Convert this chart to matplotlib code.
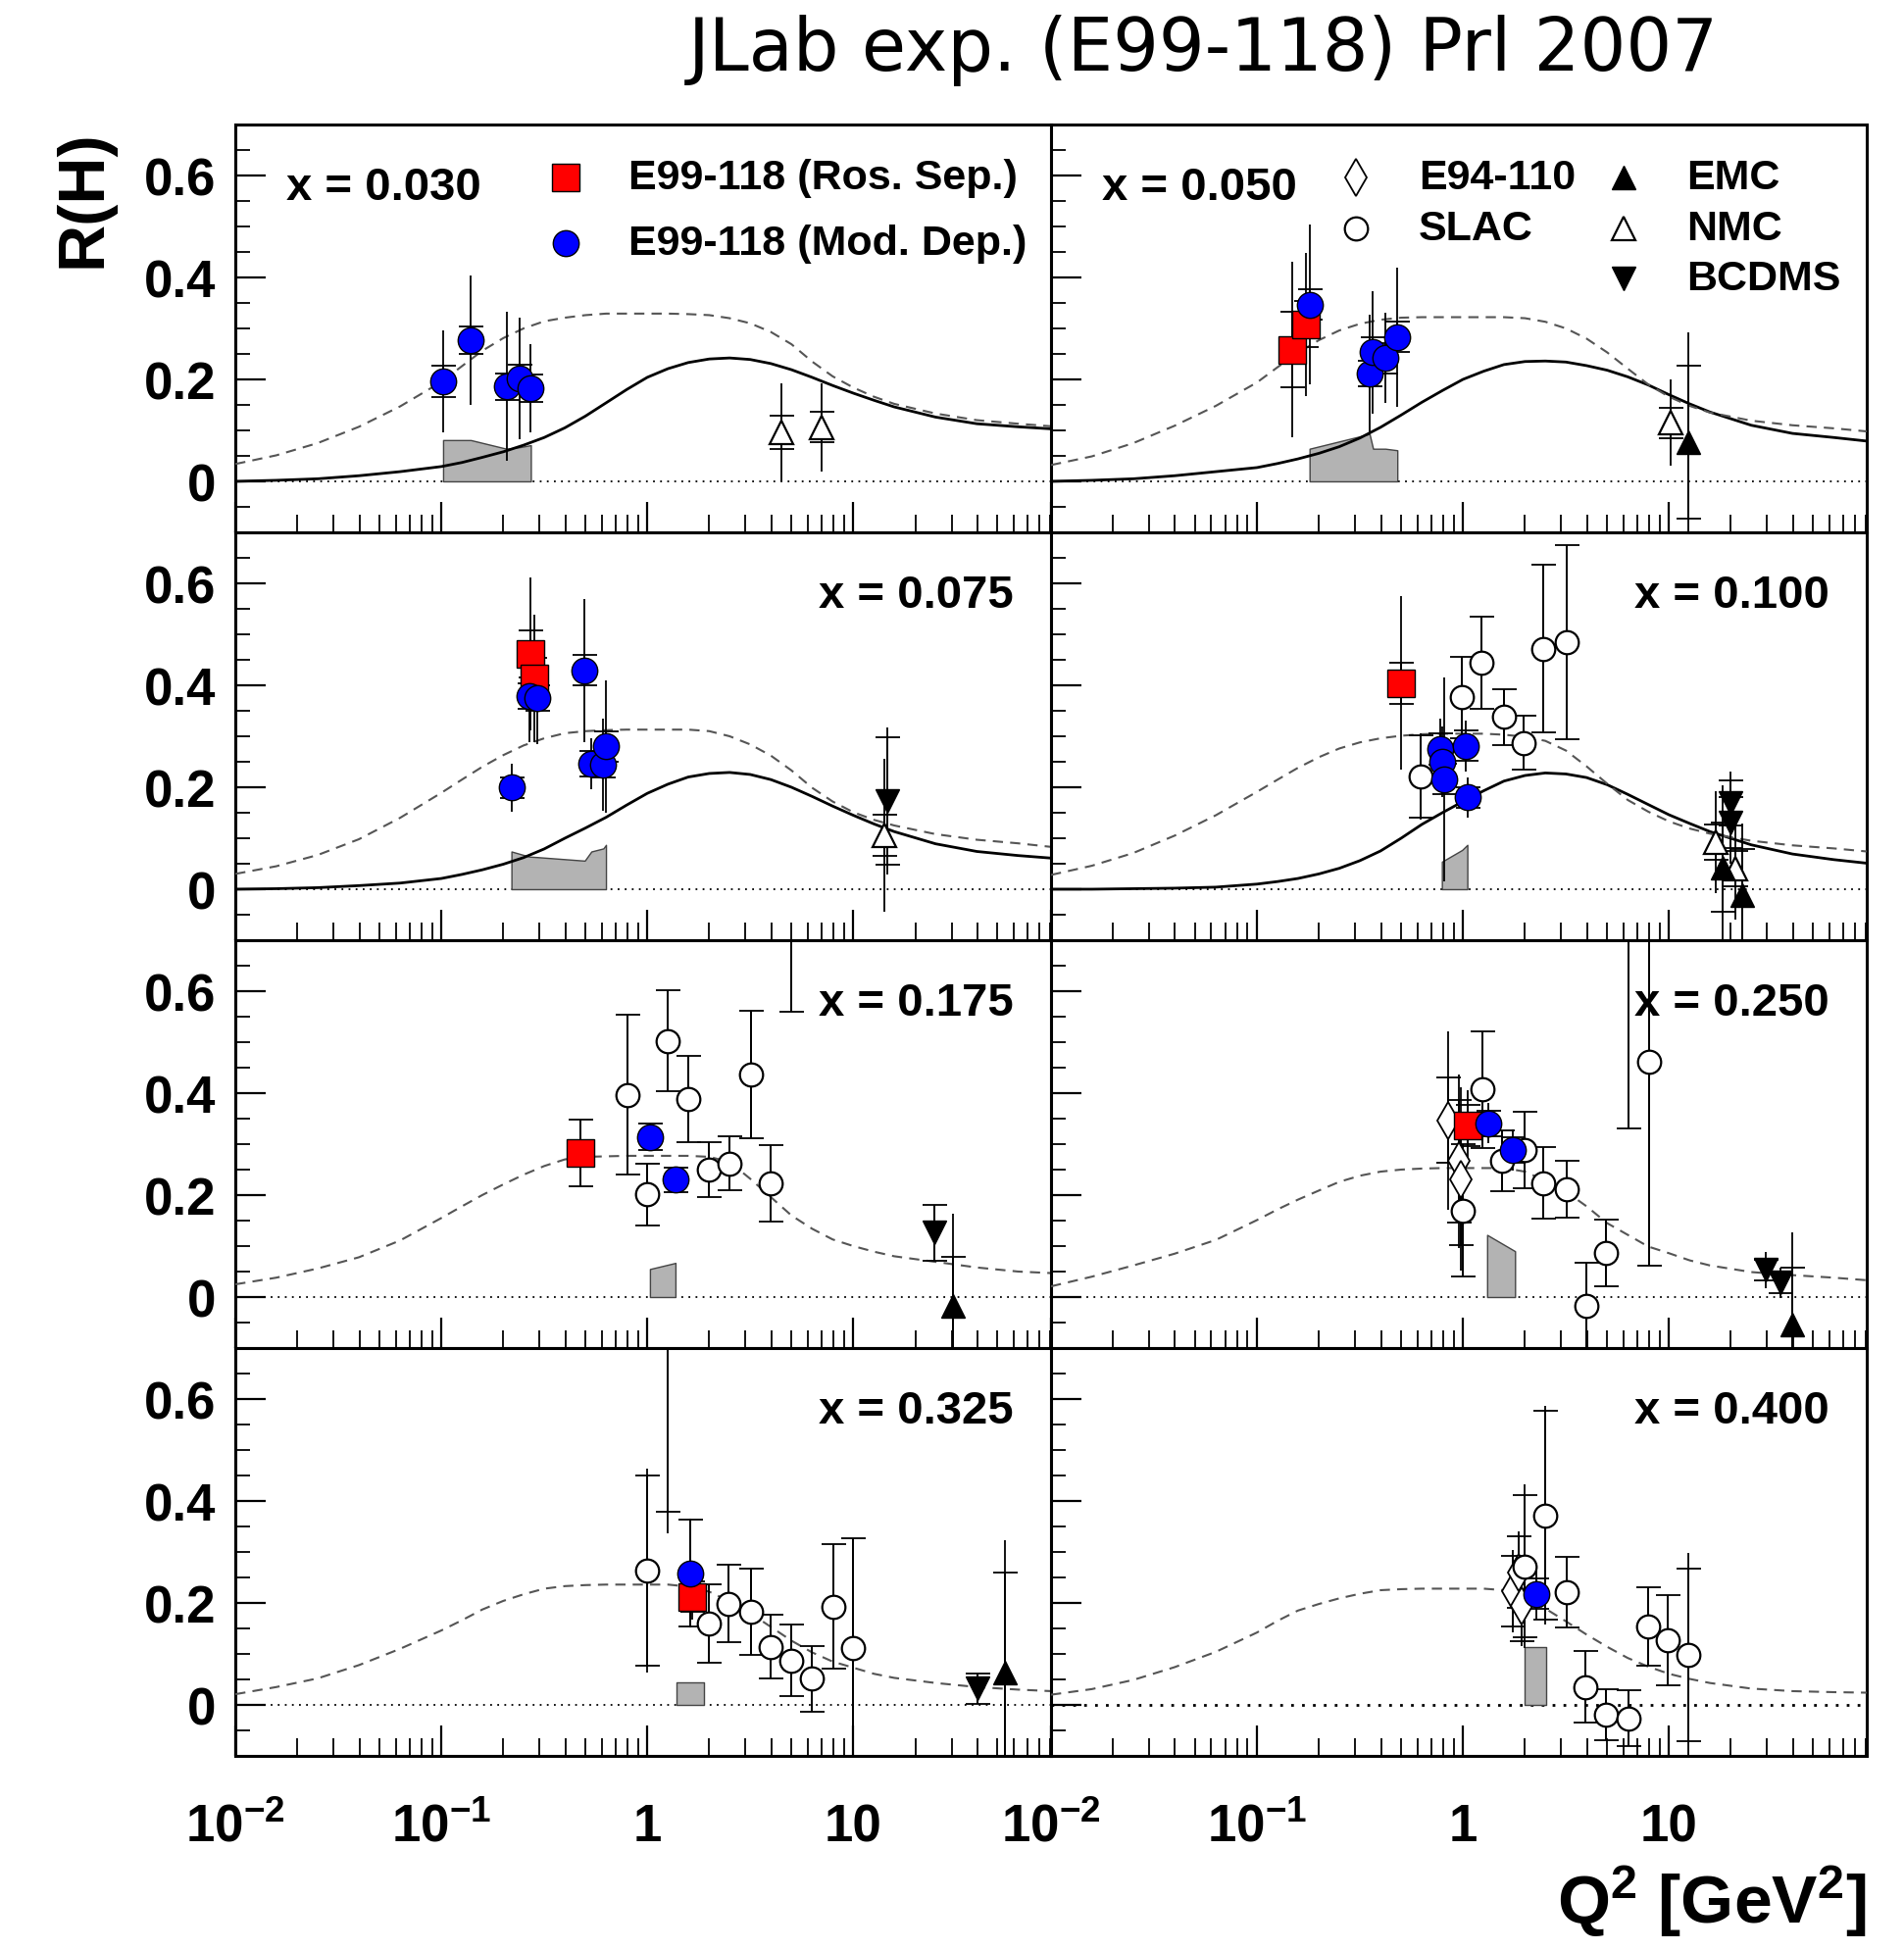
import matplotlib
matplotlib.use("Agg")
import matplotlib.pyplot as plt
from matplotlib.ticker import FixedLocator, MultipleLocator, FuncFormatter, NullFormatter

plt.rcParams['font.family'] = ['Liberation Sans', 'DejaVu Sans']
plt.rcParams['mathtext.fontset'] = 'custom'
plt.rcParams['mathtext.rm'] = 'Liberation Sans:bold'
plt.rcParams['mathtext.bf'] = 'Liberation Sans:bold'
plt.rcParams['mathtext.it'] = 'Liberation Sans:bold'

# ---------------- data ----------------
X_LABELS = ["0.030", "0.050", "0.075", "0.100", "0.175", "0.250", "0.325", "0.400"]

CURVE_Q2 = [0.01, 0.0158, 0.0251, 0.0398, 0.0631, 0.1, 0.126, 0.158, 0.2, 0.251, 0.316,
            0.398, 0.501, 0.631, 0.794, 1.0, 1.26, 1.58, 2.0, 2.51, 3.16, 3.98, 5.01,
            6.31, 7.94, 10.0, 12.6, 15.8, 25.1, 39.8, 63.1, 91.2]

SOLID_030 = [0.0, 0.002, 0.005, 0.011, 0.019, 0.029, 0.037, 0.047, 0.058, 0.071, 0.086,
             0.105, 0.128, 0.154, 0.180, 0.204, 0.221, 0.233, 0.240, 0.242, 0.239, 0.231,
             0.219, 0.204, 0.188, 0.173, 0.159, 0.146, 0.126, 0.113, 0.107, 0.103]
SOLID_050 = [0.0, 0.002, 0.005, 0.011, 0.019, 0.027, 0.035, 0.044, 0.055, 0.068, 0.085,
             0.106, 0.130, 0.155, 0.178, 0.200, 0.216, 0.229, 0.235, 0.236, 0.234, 0.227,
             0.218, 0.205, 0.189, 0.170, 0.152, 0.136, 0.110, 0.094, 0.086, 0.079]
SOLID_075 = [0.0, 0.001, 0.003, 0.007, 0.012, 0.021, 0.029, 0.038, 0.049, 0.062, 0.079,
             0.100, 0.120, 0.141, 0.165, 0.188, 0.206, 0.220, 0.227, 0.229, 0.225, 0.215,
             0.200, 0.182, 0.163, 0.145, 0.128, 0.113, 0.089, 0.074, 0.066, 0.061]
SOLID_100 = [0.0, 0.0, 0.001, 0.002, 0.004, 0.010, 0.015, 0.021, 0.030, 0.041, 0.056,
             0.075, 0.100, 0.127, 0.150, 0.172, 0.193, 0.212, 0.223, 0.228, 0.226, 0.219,
             0.205, 0.186, 0.166, 0.146, 0.129, 0.113, 0.087, 0.069, 0.058, 0.051]

DASH_030 = [0.034, 0.051, 0.075, 0.107, 0.147, 0.195, 0.226, 0.256, 0.281, 0.300, 0.314,
            0.321, 0.326, 0.329, 0.329, 0.329, 0.329, 0.328, 0.326, 0.320, 0.310, 0.293,
            0.269, 0.235, 0.206, 0.184, 0.166, 0.152, 0.133, 0.120, 0.113, 0.108]
DASH_050 = [0.032, 0.049, 0.075, 0.109, 0.148, 0.194, 0.224, 0.252, 0.277, 0.296, 0.309,
            0.317, 0.321, 0.322, 0.322, 0.322, 0.322, 0.322, 0.320, 0.313, 0.300, 0.280,
            0.253, 0.221, 0.190, 0.166, 0.148, 0.135, 0.119, 0.110, 0.104, 0.098]
DASH_075 = [0.030, 0.045, 0.067, 0.098, 0.140, 0.189, 0.215, 0.240, 0.263, 0.282, 0.296,
            0.306, 0.310, 0.312, 0.313, 0.313, 0.313, 0.313, 0.310, 0.300, 0.284, 0.262,
            0.233, 0.199, 0.172, 0.151, 0.136, 0.125, 0.108, 0.097, 0.090, 0.083]
DASH_100 = [0.028, 0.046, 0.071, 0.105, 0.145, 0.191, 0.215, 0.238, 0.259, 0.276, 0.288,
            0.296, 0.301, 0.304, 0.305, 0.305, 0.305, 0.303, 0.299, 0.291, 0.272, 0.241,
            0.207, 0.175, 0.152, 0.133, 0.119, 0.109, 0.095, 0.086, 0.080, 0.074]
DASH_175 = [0.025, 0.038, 0.056, 0.078, 0.111, 0.155, 0.178, 0.200, 0.221, 0.240, 0.257,
            0.270, 0.275, 0.276, 0.277, 0.277, 0.277, 0.277, 0.275, 0.265, 0.232, 0.196,
            0.160, 0.134, 0.113, 0.100, 0.089, 0.080, 0.069, 0.058, 0.050, 0.047]
DASH_250 = [0.021, 0.040, 0.062, 0.085, 0.112, 0.151, 0.172, 0.191, 0.209, 0.226, 0.238,
            0.246, 0.250, 0.252, 0.253, 0.253, 0.253, 0.253, 0.246, 0.228, 0.207, 0.178,
            0.145, 0.122, 0.099, 0.086, 0.072, 0.062, 0.049, 0.043, 0.038, 0.033]
DASH_325 = [0.021, 0.035, 0.052, 0.078, 0.110, 0.146, 0.166, 0.187, 0.204, 0.217, 0.228,
            0.233, 0.235, 0.236, 0.236, 0.236, 0.236, 0.232, 0.222, 0.203, 0.180, 0.153,
            0.126, 0.103, 0.085, 0.073, 0.061, 0.053, 0.043, 0.035, 0.030, 0.027]
DASH_400 = [0.020, 0.031, 0.049, 0.074, 0.104, 0.142, 0.165, 0.185, 0.198, 0.209, 0.218,
            0.225, 0.227, 0.228, 0.228, 0.228, 0.228, 0.225, 0.211, 0.189, 0.164, 0.138,
            0.114, 0.092, 0.075, 0.061, 0.051, 0.043, 0.032, 0.027, 0.025, 0.024]

# series: (Q2, R, stat error, total error)
ROS_050 = ([0.149, 0.173], [0.258, 0.308], [0.074, 0.045], [0.172, 0.14])
ROS_075 = ([0.272, 0.283], [0.462, 0.413], [0.046, 0.04], [0.15, 0.125])
ROS_100 = ([0.501], [0.404], [0.04], [0.17])
ROS_175 = ([0.474], [0.283], [0.065], [0.065])
ROS_250 = ([1.053], [0.336], [0.04], [0.07])
ROS_325 = ([1.65], [0.212], [0.03], [0.045])

MOD_030 = ([0.102, 0.139, 0.207, 0.24, 0.272], [0.196, 0.276, 0.186, 0.202, 0.183],
           [0.03, 0.027, 0.026, 0.027, 0.027], [0.10, 0.127, 0.146, 0.12, 0.087])
MOD_050 = ([0.18, 0.352, 0.366, 0.42, 0.48], [0.347, 0.212, 0.253, 0.242, 0.283],
           [0.03, 0.025, 0.03, 0.03, 0.03], [0.156, 0.115, 0.12, 0.088, 0.137])
MOD_075 = ([0.219, 0.267, 0.292, 0.497, 0.535, 0.612, 0.63],
           [0.199, 0.378, 0.375, 0.429, 0.246, 0.244, 0.28],
           [0.02, 0.025, 0.025, 0.03, 0.025, 0.025, 0.03],
           [0.047, 0.09, 0.09, 0.14, 0.05, 0.09, 0.13])
MOD_100 = ([0.78, 0.79, 0.815, 1.03, 1.05], [0.275, 0.25, 0.216, 0.281, 0.180],
           [0.03, 0.03, 0.03, 0.03, 0.02], [0.06, 0.07, 0.2, 0.05, 0.04])
MOD_175 = ([1.03, 1.37], [0.314, 0.230], [0.026, 0.024], [0.026, 0.024])
MOD_250 = ([1.33, 1.75], [0.341, 0.289], [0.025, 0.025], [0.04, 0.04])
MOD_325 = ([1.61], [0.258], [0.105], [0.107])
MOD_400 = ([2.28], [0.218], [0.03], [0.05])

E94_250 = ([0.845, 0.953, 0.977], [0.347, 0.267, 0.231], [0.083, 0.12, 0.13], [0.175, 0.17, 0.18])
E94_400 = ([1.75, 1.87, 1.92], [0.223, 0.26, 0.195], [0.07, 0.07, 0.07], [0.08, 0.08, 0.08])

SLAC_100 = ([0.624, 0.99, 1.23, 1.59, 1.98, 2.45, 3.19],
            [0.221, 0.376, 0.444, 0.338, 0.287, 0.472, 0.484],
            [0.08, 0.08, 0.09, 0.055, 0.053, 0.165, 0.19],
            [0.085, 0.08, 0.09, 0.055, 0.053, 0.165, 0.19])
SLAC_175 = ([0.80, 1.0, 1.25, 1.58, 1.99, 2.5, 3.18, 3.98, 4.99],
            [0.397, 0.201, 0.502, 0.388, 0.250, 0.262, 0.437, 0.224, 0.80],
            [0.156, 0.06, 0.099, 0.085, 0.053, 0.053, 0.125, 0.075, 0.24],
            [0.156, 0.06, 0.099, 0.085, 0.053, 0.053, 0.125, 0.075, 0.24])
SLAC_250 = ([1.0, 1.24, 1.55, 2.0, 2.44, 3.19, 3.99, 4.97, 6.34, 7.98],
            [0.170, 0.407, 0.267, 0.288, 0.224, 0.211, -0.017, 0.086, 0.95, 0.462],
            [0.13, 0.115, 0.06, 0.075, 0.07, 0.056, 0.085, 0.065, 0.62, 0.40],
            [0.13, 0.115, 0.06, 0.075, 0.07, 0.056, 0.085, 0.065, 0.62, 0.40])
SLAC_325 = ([1.0, 1.25, 1.99, 2.48, 3.18, 3.98, 4.99, 6.32, 8.03, 10.0],
            [0.263, 0.90, 0.159, 0.199, 0.183, 0.114, 0.087, 0.051, 0.193, 0.112],
            [0.187, 0.521, 0.077, 0.076, 0.085, 0.063, 0.07, 0.064, 0.122, 0.215],
            [0.20, 0.563, 0.077, 0.076, 0.085, 0.063, 0.07, 0.064, 0.122, 0.215])
SLAC_400 = ([2.0, 2.5, 3.2, 3.92, 4.97, 6.34, 7.89, 9.88, 12.4],
            [0.272, 0.372, 0.221, 0.035, -0.019, -0.026, 0.154, 0.127, 0.098],
            [0.14, 0.205, 0.07, 0.07, 0.05, 0.055, 0.077, 0.088, 0.17],
            [0.16, 0.215, 0.07, 0.07, 0.05, 0.055, 0.077, 0.088, 0.20])

EMC_050 = ([12.4], [0.077], [0.15], [0.215])
EMC_100 = ([18.2, 22.6], [0.043, -0.012], [0.087, 0.09], [0.16, 0.14])
EMC_175 = ([30.4], [-0.017], [0.095], [0.18])
EMC_250 = ([39.5], [-0.053], [0.11], [0.18])
EMC_325 = ([54.3], [0.064], [0.196], [0.26])

NMC_030 = ([4.49, 7.0], [0.096, 0.106], [0.032, 0.03], [0.097, 0.086])
NMC_050 = ([10.2], [0.115], [0.03], [0.085])
NMC_075 = ([14.1], [0.106], [0.04], [0.15])
NMC_100 = ([16.9, 21.0], [0.092, 0.040], [0.035, 0.035], [0.10, 0.10])

BCDMS_075 = ([14.7], [0.173], [0.125], [0.145])
BCDMS_100 = ([19.9, 19.9], [0.169, 0.130], [0.045, 0.05], [0.062, 0.08])
BCDMS_175 = ([24.8], [0.126], [0.055], [0.055])
BCDMS_250 = ([29.4, 34.7], [0.053, 0.028], [0.02, 0.02], [0.035, 0.03])
BCDMS_325 = ([39.9], [0.032], [0.03], [0.03])

# systematic-error bands: (Q2, upper edge)
BAND_030 = ([0.102, 0.139, 0.207, 0.24, 0.272], [0.081, 0.081, 0.064, 0.067, 0.071])
BAND_050 = ([0.18, 0.352, 0.366, 0.42, 0.48], [0.064, 0.093, 0.064, 0.064, 0.061])
BAND_075 = ([0.219, 0.267, 0.292, 0.497, 0.535, 0.612, 0.63],
            [0.074, 0.064, 0.063, 0.056, 0.074, 0.080, 0.087])
BAND_100 = ([0.79, 0.99, 1.05], [0.054, 0.077, 0.087])
BAND_175 = ([1.03, 1.37], [0.055, 0.067])
BAND_250 = ([1.31, 1.79], [0.122, 0.090])
BAND_325 = ([1.38, 1.88], [0.045, 0.045])
BAND_400 = ([2.0, 2.53], [0.114, 0.114])

PANELS = [
    dict(solid=SOLID_030, dash=DASH_030, band=BAND_030, mod=MOD_030, nmc=NMC_030),
    dict(solid=SOLID_050, dash=DASH_050, band=BAND_050, ros=ROS_050, mod=MOD_050,
         nmc=NMC_050, emc=EMC_050),
    dict(solid=SOLID_075, dash=DASH_075, band=BAND_075, ros=ROS_075, mod=MOD_075,
         nmc=NMC_075, bcdms=BCDMS_075),
    dict(solid=SOLID_100, dash=DASH_100, band=BAND_100, ros=ROS_100, mod=MOD_100,
         slac=SLAC_100, nmc=NMC_100, emc=EMC_100, bcdms=BCDMS_100),
    dict(dash=DASH_175, band=BAND_175, ros=ROS_175, mod=MOD_175, slac=SLAC_175,
         emc=EMC_175, bcdms=BCDMS_175),
    dict(dash=DASH_250, band=BAND_250, ros=ROS_250, mod=MOD_250, slac=SLAC_250,
         e94=E94_250, emc=EMC_250, bcdms=BCDMS_250),
    dict(dash=DASH_325, band=BAND_325, ros=ROS_325, mod=MOD_325, slac=SLAC_325,
         emc=EMC_325, bcdms=BCDMS_325),
    dict(dash=DASH_400, band=BAND_400, mod=MOD_400, slac=SLAC_400, e94=E94_400),
]

# ---------------- styles ----------------
STYLE = {
    'slac':  dict(marker='o', mfc='white', mec='black', ms=17, mew=1.6),
    'e94':   dict(marker='d', mfc='white', mec='black', ms=19, mew=1.3),
    'nmc':   dict(marker='^', mfc='white', mec='black', ms=17, mew=1.6),
    'emc':   dict(marker='^', mfc='black', mec='black', ms=17, mew=1.0),
    'bcdms': dict(marker='v', mfc='black', mec='black', ms=17, mew=1.0),
    'ros':   dict(marker='s', mfc='#ff0000', mec='black', ms=20, mew=1.0),
    'mod':   dict(marker='o', mfc='#0000ff', mec='black', ms=19, mew=1.0),
}
ORDER = ['e94', 'slac', 'nmc', 'emc', 'bcdms', 'ros', 'mod']

fig, axes = plt.subplots(4, 2, figsize=(19.42, 19.90), dpi=100, sharex=True, sharey=True)
fig.subplots_adjust(left=0.1236, right=0.9804, top=0.9357, bottom=0.0995,
                    wspace=0, hspace=0)

XMAJ = [0.01, 0.1, 1.0, 10.0]
XMIN = [m * d for d in [0.01, 0.1, 1.0, 10.0] for m in range(2, 10)]
XLAB = {0.01: r'$10^{-2}$', 0.1: r'$10^{-1}$', 1.0: '1', 10.0: '10'}

for i, ax in enumerate(axes.flat):
    p = PANELS[i]
    ax.set_xscale('log')
    ax.set_xlim(0.01, 91.2)
    ax.set_ylim(-0.1, 0.7)
    for s in ax.spines.values():
        s.set_linewidth(2.2)

    ax.axhline(0, color='black', lw=2.0 if i == 7 else 1.3, dashes=(1.0, 3.0), zorder=1)

    bq, bt = p['band']
    ax.fill_between(bq, 0, bt, facecolor='#b3b3b3', edgecolor='#444444', lw=1.0, zorder=2)

    if 'solid' in p:
        ax.plot(CURVE_Q2, p['solid'], color='black', lw=2.0, zorder=3)
    ax.plot(CURVE_Q2, p['dash'], color='#555555', lw=1.5, dashes=(5, 3.5), zorder=3)

    for key in ORDER:
        if key not in p:
            continue
        q, r, st, tot = p[key]
        ax.errorbar(q, r, yerr=tot, fmt='none', ecolor='black', elinewidth=1.3,
                    capsize=0, zorder=4)
        ax.errorbar(q, r, yerr=st, fmt='none', ecolor='black', elinewidth=1.3,
                    capsize=9, capthick=1.3, zorder=4)
        ax.plot(q, r, ls='none', zorder=5, **STYLE[key])

    ax.xaxis.set_major_locator(FixedLocator(XMAJ))
    ax.xaxis.set_minor_locator(FixedLocator(XMIN))
    ax.xaxis.set_minor_formatter(NullFormatter())
    ax.yaxis.set_major_locator(FixedLocator([0.0, 0.2, 0.4, 0.6]))
    ax.yaxis.set_minor_locator(MultipleLocator(0.05))
    ax.tick_params(axis='both', which='both', direction='in', top=False, right=False)
    ax.tick_params(axis='y', which='major', length=22, width=1.6, labelsize=38, pad=14)
    ax.tick_params(axis='y', which='minor', length=11, width=1.3)
    ax.tick_params(axis='x', which='major', length=22, width=1.6, labelsize=38, pad=62)
    ax.tick_params(axis='x', which='minor', length=13, width=1.3)

    xtxt = 'x = ' + X_LABELS[i]
    if i < 2:
        ax.text(0.0625, 0.845, xtxt, transform=ax.transAxes, ha='left', va='center',
                fontsize=34, fontweight='bold')
    else:
        ax.text(0.954, 0.847, xtxt, transform=ax.transAxes, ha='right', va='center',
                fontsize=34, fontweight='bold')

for ax in axes[:, 0]:
    ax.yaxis.set_major_formatter(FuncFormatter(lambda v, pos: '0' if abs(v) < 1e-9 else f'{v:.1f}'))
    for lab in ax.get_yticklabels():
        lab.set_fontweight('bold')
for ax in axes[-1, :]:
    ax.xaxis.set_major_formatter(FuncFormatter(lambda v, pos: XLAB.get(round(v, 4), '')))
    for lab in ax.get_xticklabels():
        lab.set_fontweight('bold')
        lab.set_verticalalignment('baseline')

# legends (drawn by hand, ROOT style)
a0 = axes[0, 0]
leg0 = [('ros', 'E99-118 (Ros. Sep.)', 0.869), ('mod', 'E99-118 (Mod. Dep.)', 0.708)]
for key, txt, y in leg0:
    a0.plot([0.405], [y], transform=a0.transAxes, clip_on=False, ls='none', **STYLE[key])
    a0.text(0.482, y, txt, transform=a0.transAxes, ha='left', va='center',
            fontsize=31, fontweight='bold')
a1 = axes[0, 1]
leg1 = [('e94', 'E94-110', 0.374, 0.869), ('slac', 'SLAC', 0.374, 0.745),
        ('emc', 'EMC', 0.702, 0.869), ('nmc', 'NMC', 0.702, 0.745),
        ('bcdms', 'BCDMS', 0.702, 0.623)]
for key, txt, x, y in leg1:
    a1.plot([x], [y], transform=a1.transAxes, clip_on=False, ls='none', **STYLE[key])
    a1.text(x + 0.077, y, txt, transform=a1.transAxes, ha='left', va='center',
            fontsize=31, fontweight='bold')

fig.text(0.044, 0.898, 'R(H)', rotation=90, ha='center', va='center',
         fontsize=48, fontweight='bold')
fig.text(0.9804, 0.006, r'Q$^{2}$ [GeV$^{2}$]', ha='right', va='bottom',
         fontsize=50, fontweight='bold')
fig.text(0.632, 0.974, 'JLab exp. (E99-118) Prl 2007', ha='center', va='center',
         fontsize=53, family='DejaVu Sans')

fig.savefig('out.png', dpi=100)
